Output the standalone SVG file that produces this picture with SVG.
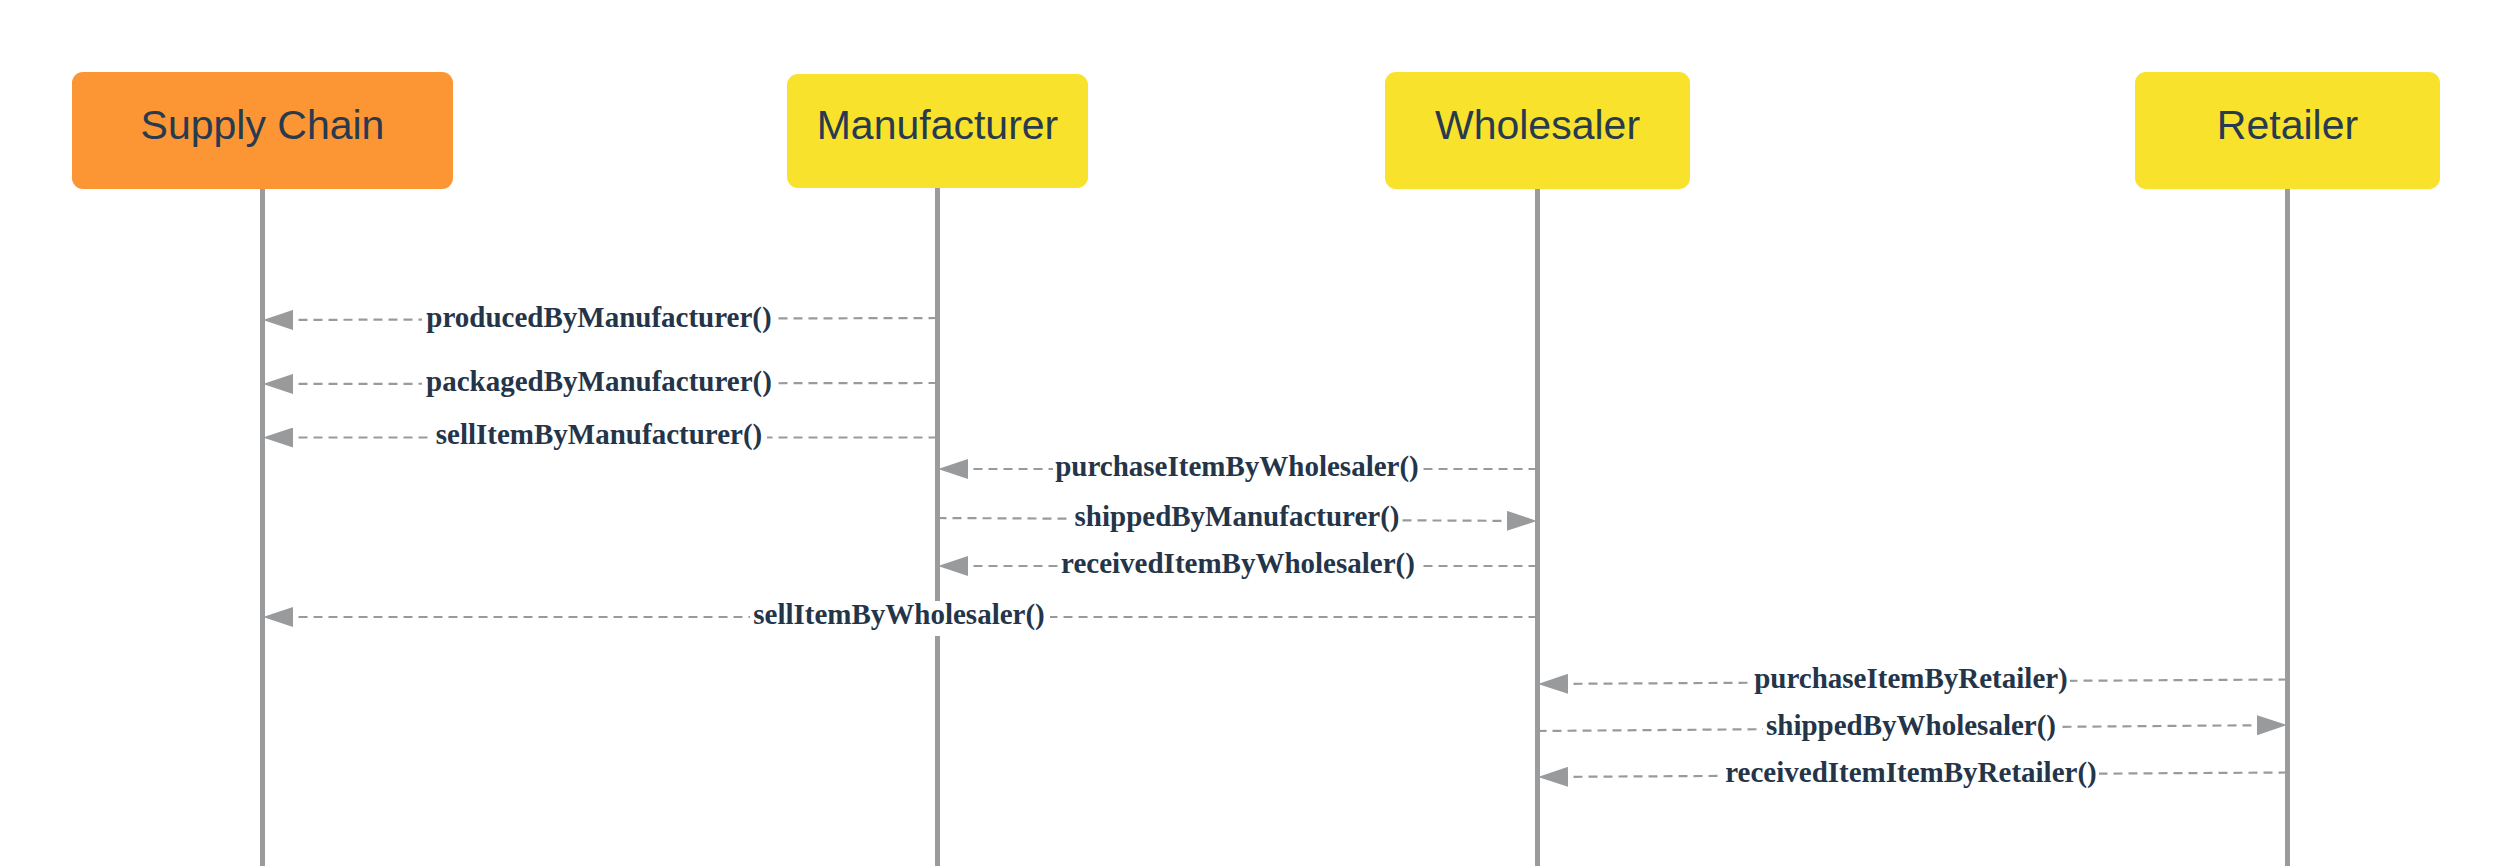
<svg xmlns="http://www.w3.org/2000/svg" width="2513" height="866" viewBox="0 0 2513 866">
<style>
.box-o{fill:#FC9533;}
.box-y{fill:#F9E22C;}
.nlabel{font-family:"Liberation Sans",Arial,sans-serif;font-size:41px;fill:#283a4f;text-anchor:middle;}
.life{stroke:#9a9b9c;stroke-width:5;fill:none;}
.msg{stroke:#999a9b;stroke-width:2.2;stroke-dasharray:9 6;fill:none;}
.lbg{fill:#ffffff;}
.mlabel{font-family:"Liberation Serif","Times New Roman",serif;font-weight:bold;font-size:29px;fill:#253549;text-anchor:middle;}
</style>
<defs>
<marker id="arr" viewBox="0 0 30 20" refX="30" refY="10" markerWidth="30" markerHeight="20" markerUnits="userSpaceOnUse" orient="auto">
<path d="M0,0 L30,10 L0,20 Z" fill="#999a9b"/>
</marker>
</defs>
<rect width="2513" height="866" fill="#ffffff"/>
<g id="lifelines">
<line class="life" x1="262.5" y1="186" x2="262.5" y2="866"/>
<line class="life" x1="937.5" y1="186" x2="937.5" y2="866"/>
<line class="life" x1="1537.5" y1="186" x2="1537.5" y2="866"/>
<line class="life" x1="2287.5" y1="186" x2="2287.5" y2="866"/>
</g>
<g id="node-supply-chain">
<rect class="box-o" x="72" y="72" width="381" height="117" rx="11"/>
<text class="nlabel" x="262.5" y="139">Supply Chain</text>
</g>
<g id="node-manufacturer">
<rect class="box-y" x="787" y="74" width="301" height="114" rx="11"/>
<text class="nlabel" x="937.5" y="139">Manufacturer</text>
</g>
<g id="node-wholesaler">
<rect class="box-y" x="1385" y="72" width="305" height="117" rx="11"/>
<text class="nlabel" x="1537.5" y="139">Wholesaler</text>
</g>
<g id="node-retailer">
<rect class="box-y" x="2135" y="72" width="305" height="117" rx="11"/>
<text class="nlabel" x="2287.5" y="139">Retailer</text>
</g>
<g id="connectors">
<line class="msg" x1="937.5" y1="318" x2="263" y2="320" marker-end="url(#arr)"/>
<rect class="lbg" x="422" y="302" width="354" height="32"/>
<text class="mlabel" x="599" y="326.5">producedByManufacturer()</text>

<line class="msg" x1="937.5" y1="383" x2="263" y2="384" marker-end="url(#arr)"/>
<rect class="lbg" x="422" y="366" width="354" height="32"/>
<text class="mlabel" x="599" y="390.5">packagedByManufacturer()</text>

<line class="msg" x1="937.5" y1="437.5" x2="263" y2="437.5" marker-end="url(#arr)"/>
<rect class="lbg" x="432" y="420" width="335" height="32"/>
<text class="mlabel" x="599" y="443.5">sellItemByManufacturer()</text>

<line class="msg" x1="1537.5" y1="469" x2="938" y2="469" marker-end="url(#arr)"/>
<rect class="lbg" x="1053" y="452" width="370" height="32"/>
<text class="mlabel" x="1237" y="475.5">purchaseItemByWholesaler()</text>

<line class="msg" x1="937.5" y1="518" x2="1537" y2="521" marker-end="url(#arr)"/>
<rect class="lbg" x="1072" y="502" width="330" height="32"/>
<text class="mlabel" x="1237" y="525.5">shippedByManufacturer()</text>

<line class="msg" x1="1537.5" y1="566" x2="938" y2="566" marker-end="url(#arr)"/>
<rect class="lbg" x="1058" y="549" width="360" height="32"/>
<text class="mlabel" x="1238" y="572.5">receivedItemByWholesaler()</text>

<line class="msg" x1="1537.5" y1="617" x2="263" y2="617" marker-end="url(#arr)"/>
<rect class="lbg" x="750" y="601" width="300" height="35"/>
<text class="mlabel" x="899" y="623.5">sellItemByWholesaler()</text>

<line class="msg" x1="2287.5" y1="679.5" x2="1538" y2="684" marker-end="url(#arr)"/>
<rect class="lbg" x="1752" y="664" width="318" height="32"/>
<text class="mlabel" x="1911" y="687.5">purchaseItemByRetailer)</text>

<line class="msg" x1="1537.5" y1="731" x2="2287" y2="725" marker-end="url(#arr)"/>
<rect class="lbg" x="1763" y="711" width="296" height="32"/>
<text class="mlabel" x="1911" y="734.5">shippedByWholesaler()</text>

<line class="msg" x1="2287.5" y1="772.5" x2="1538" y2="777" marker-end="url(#arr)"/>
<rect class="lbg" x="1723" y="758" width="376" height="32"/>
<text class="mlabel" x="1911" y="781.5">receivedItemItemByRetailer()</text>
</g>
</svg>
